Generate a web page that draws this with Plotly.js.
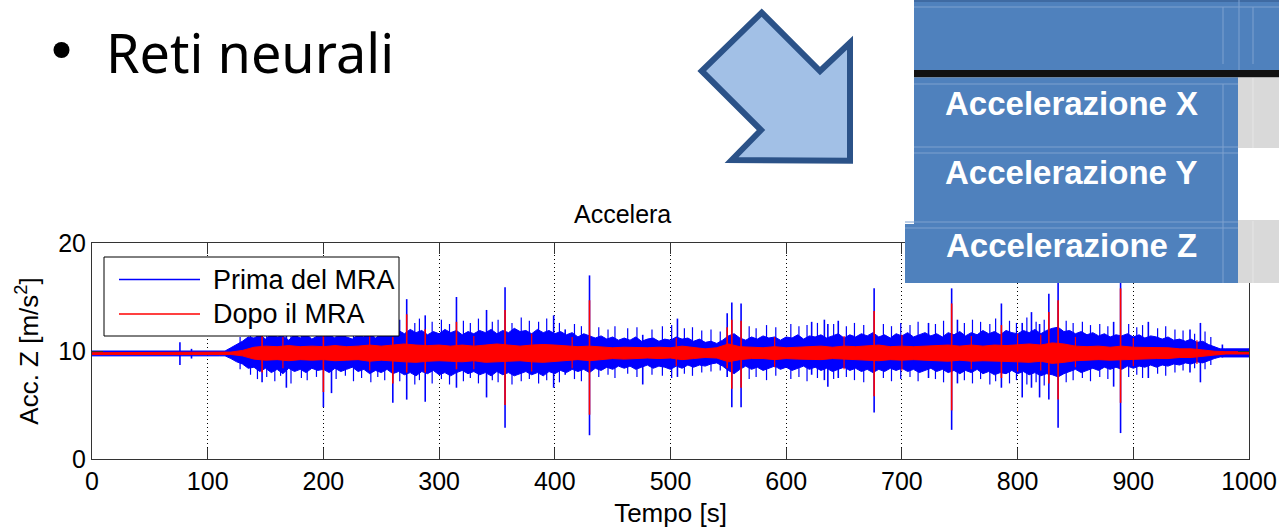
<!DOCTYPE html>
<html>
<head>
<meta charset="utf-8">
<script src="https://cdn.plot.ly/plotly-3.0.1.min.js"></script>
<style>html,body{margin:0;padding:0;background:#fff;}#chart{width:1279px;height:529px;}</style>
</head>
<body>
<div id="chart"></div>
<script>
// ---------- DATA ----------
const tBlue = [0,10,20,30,40,50,60,70,80,90,100,110,
115,
120,125,130,135,140,145,150,155,160,165,
170,175,180,185,190,195,200,205,210,215,
220,225,230,235,240,245,250,255,260,265,
270,275,280,285,290,295,300,305,310,315,
320,325,330,335,340,345,350,355,360,365,
370,375,380,385,390,395,400,405,410,415,
420,425,430,435,440,445,450,455,460,465,
470,475,480,485,490,495,500,505,510,515,
520,525,530,535,540,545,550,555,560,565,
570,575,580,585,590,595,600,605,610,615,
620,625,630,635,640,645,650,655,660,665,
670,675,680,685,690,695,700,705,710,715,
720,725,730,735,740,745,750,755,760,765,
770,775,780,785,790,795,800,805,810,815,
820,825,830,835,840,845,850,855,860,865,
870,875,880,885,890,895,900,905,910,915,
920,925,930,935,940,945,950,955,960,965,
970,975,980,990,1000];
const blueHi = [10.0,10.0,10.0,10.0,10.0,10.0,10.0,10.0,10.0,10.0,10.0,10.0,
10.0,
10.3,10.6,10.9,11.3,11.2,11.5,11.1,11.6,11.3,11.4,
11.0,11.5,11.2,11.6,11.1,11.4,11.3,11.5,11.2,11.6,
11.3,11.1,11.5,11.3,11.7,11.2,11.5,11.8,11.4,11.9,
11.6,12.0,11.7,11.9,11.5,11.8,11.6,12.0,11.7,11.9,
11.5,11.8,11.6,11.9,11.7,12.0,11.6,11.9,11.7,12.1,
11.8,11.9,11.6,12.0,11.7,11.9,11.6,11.8,11.5,11.7,
11.3,11.6,11.4,11.2,11.4,11.1,11.3,11.0,11.2,11.0,
11.3,10.9,11.1,11.2,10.9,11.1,11.0,11.3,11.1,11.2,
10.9,11.1,10.8,10.9,10.7,11.0,11.4,11.6,11.2,11.0,
11.3,11.1,11.4,11.2,11.3,11.0,11.3,11.2,11.5,11.1,
11.4,11.3,11.5,11.2,11.4,11.6,11.2,11.5,11.3,11.6,
11.4,11.7,11.3,11.5,11.2,11.6,11.4,11.7,11.3,11.5,
11.7,11.4,11.6,11.3,11.7,11.5,11.8,11.4,11.7,11.5,
11.9,11.6,11.8,11.5,11.9,11.7,11.6,11.9,11.7,12.0,
11.6,11.9,12.1,12.2,11.8,11.9,11.6,11.8,11.5,11.7,
11.4,11.6,11.3,11.5,11.4,11.6,11.3,11.5,11.2,11.4,
11.3,11.1,11.3,11.0,11.1,10.9,11.1,10.8,10.9,10.6,
10.4,10.2,10.2,10.2,10.2];
const blueLo = [9.55,9.55,9.55,9.55,9.55,9.55,9.55,9.55,9.55,9.55,9.55,9.55,
9.55,
9.3,9.0,8.8,8.4,8.5,8.1,8.4,8.0,8.3,7.9,
8.4,8.1,8.3,8.0,8.4,8.2,8.3,8.0,8.4,8.1,
8.3,8.5,8.1,8.3,7.9,8.2,8.0,8.3,7.9,8.1,
7.8,8.0,7.7,8.1,7.9,8.2,7.8,8.0,7.7,8.0,
8.2,7.9,8.1,7.8,8.0,7.7,8.1,7.8,8.0,7.7,
7.9,8.1,7.8,8.0,7.7,8.1,7.9,8.2,8.0,8.3,
8.1,8.3,8.0,8.4,8.2,8.5,8.3,8.6,8.4,8.6,
8.3,8.5,8.7,8.4,8.6,8.5,8.3,8.6,8.4,8.7,
8.5,8.7,8.6,8.8,8.9,8.6,8.2,7.9,8.3,8.6,
8.3,8.5,8.2,8.4,8.6,8.3,8.5,8.2,8.4,8.6,
8.3,8.5,8.2,8.4,8.1,8.3,8.5,8.2,8.4,8.1,
8.3,8.0,8.3,8.1,8.4,8.2,8.4,8.1,8.3,8.0,
8.2,8.4,8.1,8.3,8.0,8.2,7.9,8.2,8.0,8.3,
7.9,8.1,7.8,8.0,7.9,8.2,7.9,8.1,7.8,8.0,
7.7,7.9,7.8,7.6,7.9,8.1,8.3,8.0,8.2,8.4,
8.2,8.5,8.3,8.5,8.3,8.6,8.4,8.6,8.5,8.7,
8.5,8.7,8.6,8.8,8.7,8.9,8.8,9.0,8.9,9.1,
9.3,9.45,9.45,9.45,9.45];

const tRed = [0,10,20,30,40,50,60,70,80,90,100,110,
120,130,140,150,160,170,180,190,200,210,
220,230,240,250,260,270,280,290,300,310,
320,330,340,350,360,370,380,390,400,410,
420,430,440,450,460,470,480,490,500,510,
520,530,540,550,560,570,580,590,600,610,
620,630,640,650,660,670,680,690,700,710,
720,730,740,750,760,770,780,790,800,810,
820,830,840,850,860,870,880,890,900,910,
920,930,940,950,960,970,980,990,1000];
const redHi = [9.84,9.84,9.84,9.84,9.84,9.84,9.84,9.84,9.84,9.84,9.84,9.84,
9.9,10.05,10.35,10.45,10.4,10.5,10.4,10.45,10.4,10.5,
10.4,10.45,10.55,10.45,10.55,10.65,10.55,10.5,10.55,10.45,
10.55,10.45,10.55,10.65,10.55,10.45,10.55,10.6,10.55,10.45,
10.4,10.45,10.35,10.3,10.35,10.3,10.3,10.35,10.3,10.45,
10.3,10.2,10.3,10.65,10.4,10.35,10.3,10.4,10.3,10.35,
10.4,10.45,10.35,10.45,10.4,10.45,10.55,10.4,10.45,10.4,
10.45,10.45,10.55,10.45,10.55,10.45,10.55,10.5,10.55,10.65,
10.55,10.75,10.65,10.45,10.4,10.45,10.35,10.45,10.35,10.35,
10.3,10.3,10.2,10.2,10.1,9.98,9.94,9.94,9.94];
const redLo = [9.68,9.68,9.68,9.68,9.68,9.68,9.68,9.68,9.68,9.68,9.68,9.68,
9.68,9.55,9.25,9.15,9.2,9.1,9.2,9.15,9.2,9.1,
9.15,9.2,9.05,9.15,9.05,9.0,8.95,9.05,9.1,9.05,
9.0,9.1,8.95,9.0,9.05,9.1,9.0,8.95,9.05,9.1,
9.2,9.1,9.2,9.3,9.25,9.3,9.35,9.3,9.35,9.2,
9.3,9.4,9.35,9.0,9.2,9.3,9.3,9.2,9.3,9.25,
9.2,9.2,9.3,9.2,9.2,9.15,9.1,9.2,9.15,9.2,
9.15,9.1,9.05,9.15,9.05,9.1,9.05,9.05,9.0,8.95,
9.05,8.85,8.95,9.1,9.15,9.2,9.15,9.15,9.25,9.25,
9.3,9.3,9.4,9.4,9.5,9.62,9.72,9.72,9.72];

// large isolated peaks
const peakT  = [76,86,147,168,200,207,260,272,288,315,341,357,399,409,430,476,506,549,553,561,622,633,636,645,676,723,743,748,786,804,812,819,827,835,883,889,913,949,958,977];
const peakHi = [10.8,10.2,12.0,12.0,12.6,11.8,12.3,14.8,13.3,15.0,13.8,15.9,13.3,12.0,17.0,11.5,13.0,13.5,14.5,14.4,12.7,12.9,12.5,12.8,15.8,12.6,15.8,12.9,14.4,12.6,13.6,12.5,15.3,17.0,12.7,17.5,12.7,12.0,12.6,10.6];
const peakLo = [8.7,9.3,7.1,6.6,4.8,6.1,5.2,5.5,5.3,6.6,5.7,2.9,6.6,7.8,2.2,6.9,7.6,7.6,4.8,4.8,7.8,7.3,6.7,7.5,4.3,7.5,2.7,7.0,6.6,5.7,6.6,5.7,5.5,2.9,6.7,2.4,7.5,8.0,7.1,9.4];
const redPeakT  = [147,200,260,272,288,315,357,430,549,553,561,676,743,786,827,835,889];
const redPeakHi = [11.7,12.2,11.3,13.4,12.0,12.7,13.8,14.7,12.2,12.9,12.8,13.7,14.4,12.4,13.6,14.7,15.8];
const redPeakLo = [8.0,6.2,7.0,8.0,8.0,8.3,5.0,4.1,8.4,6.5,6.6,5.8,4.5,7.5,7.0,5.5,5.2];

// smaller peaks that make the band edge ragged
const minorT = [128,137,143,151,158,163,172,181,186,194,
211,219,226,233,241,247,253,266,279,283,
294,302,309,321,327,334,346,351,363,371,
378,386,393,404,417,423,438,446,452,463,
471,484,493,501,512,519,527,535,543,568,
574,583,591,604,611,618,627,641,652,659,
667,684,691,699,707,714,729,736,754,761,
768,776,781,793,799,808,816,823,842,848,
856,863,871,878,896,903,908,921,928,936,
943,953,962,967];
const minorHi = [11.3,12.0,12.2,12.4,12.1,12.5,12.2,12.6,12.0,12.3,
12.4,12.1,12.6,12.2,12.5,12.3,12.7,12.9,12.6,13.0,
12.7,12.9,12.5,12.8,12.6,13.0,12.7,12.9,12.6,13.1,
12.8,12.7,13.0,12.6,12.5,12.3,12.2,12.0,12.3,12.1,
12.2,12.0,12.3,12.4,12.1,12.2,11.9,12.0,11.8,12.3,
12.1,12.4,12.2,12.5,12.3,12.4,12.6,12.5,12.3,12.6,
12.4,12.5,12.3,12.6,12.4,12.7,12.5,12.8,12.6,12.9,
12.7,12.5,13.0,12.8,12.6,13.1,12.7,12.9,12.8,12.6,
12.7,12.4,12.5,12.3,12.5,12.2,12.4,12.1,12.3,12.0,
11.9,11.6,11.8,11.3];
const minorLo = [8.3,7.8,7.4,7.6,7.2,7.7,7.0,7.5,7.3,7.6,
7.4,7.7,7.2,7.5,7.1,7.6,7.3,7.2,6.9,7.3,
7.0,7.4,6.9,7.2,7.5,7.0,7.3,7.1,6.9,7.2,
7.4,7.0,7.3,7.1,7.4,7.2,7.6,7.8,7.5,7.9,
7.6,7.8,7.7,7.5,7.9,7.7,8.0,8.1,8.2,7.4,
7.6,7.3,7.7,7.4,7.6,7.2,7.5,7.4,7.6,7.3,
7.1,7.5,7.2,7.4,7.6,7.2,7.4,7.1,7.3,7.0,
7.4,6.9,7.2,7.0,7.3,6.9,7.1,6.8,7.1,7.3,
7.5,7.2,7.6,7.4,7.6,7.8,7.5,7.9,7.7,8.0,
8.2,8.4,8.3,8.7];
const redMinorT  = [165,240,330,380,415,505,590,650,700,760,800,820,850,900,955];
const redMinorHi = [11.3,11.5,11.4,11.6,11.3,11.2,11.3,11.4,11.5,11.4,11.6,11.5,11.3,11.2,11.0];
const redMinorLo = [8.4,8.2,8.3,8.1,8.4,8.6,8.5,8.3,8.2,8.3,8.1,8.2,8.5,8.6,8.8];

const xTicks = [0,100,200,300,400,500,600,700,800,900,1000];
const yTicks = [0,10,20];
const seriesNames = ['Prima del MRA','Dopo il MRA'];
const tableRows = ['Accelerazione X','Accelerazione Y','Accelerazione Z'];

// ---------- helpers ----------
const BLUE = '#0000ff', RED = '#ff0000';
function band(t, hi, lo, color, name) {
  return {x: t.concat(t.slice().reverse()), y: hi.concat(lo.slice().reverse()),
    type:'scatter', mode:'lines', fill:'toself', fillcolor:color,
    line:{color:color, width:1}, name:name, showlegend:false, hoverinfo:'skip'};
}
function spikes(t, hi, lo, color, w, name) {
  const x = [], y = [];
  t.forEach((v, i) => { x.push(v, v, null); y.push(lo[i], hi[i], null); });
  return {x:x, y:y, type:'scatter', mode:'lines', line:{color:color, width:w},
    name:name, showlegend:false, hoverinfo:'skip', connectgaps:false};
}
// plot area in pixels: x 92..1249, y 243..459
const PX = p => (p - 92) / 1157;
const PY = p => (459 - p) / 216;
function rect(x0, y0, x1, y1, fill) {
  return {type:'rect', xref:'paper', yref:'paper', layer:'above',
    x0:PX(x0), x1:PX(x1), y0:PY(y1), y1:PY(y0), fillcolor:fill, line:{width:0}};
}
function seg(x0, y0, x1, y1, color, w) {
  return {type:'line', xref:'paper', yref:'paper', layer:'above',
    x0:PX(x0), x1:PX(x1), y0:PY(y0), y1:PY(y1), line:{color:color, width:w}};
}
function text(str, x, y, size, opts) {
  return Object.assign({xref:'paper', yref:'paper', x:PX(x), y:PY(y), text:str,
    showarrow:false, xanchor:'left', yanchor:'middle',
    font:{family:'Liberation Sans, Arial, sans-serif', size:size, color:'#000'}}, opts || {});
}

const traces = [
  band(tBlue, blueHi, blueLo, BLUE, seriesNames[0]),
  spikes(minorT, minorHi, minorLo, BLUE, 1.2, seriesNames[0]),
  spikes(peakT, peakHi, peakLo, BLUE, 1.6, seriesNames[0]),
  band(tRed, redHi, redLo, RED, seriesNames[1]),
  spikes(redMinorT, redMinorHi, redMinorLo, RED, 1.2, seriesNames[1]),
  spikes(redPeakT, redPeakHi, redPeakLo, RED, 1.6, seriesNames[1])
];

// arrow outline (pixels)
const arrowPts = [[761.7,12.7],[820,71],[850,42.7],[850,160.7],[731.7,160],[761,130],[701.7,71]];
const arrowPath = 'M' + arrowPts.map(p => PX(p[0]) + ',' + PY(p[1])).join(' L') + ' Z';

const LIGHT = '#7fa1cf', TBLUE = '#4f81bd';
const shapes = [
  // legend box
  {type:'rect', xref:'paper', yref:'paper', layer:'above', x0:PX(104), x1:PX(399), y0:PY(336), y1:PY(257),
   fillcolor:'#fff', line:{color:'#000', width:1}},
  seg(119, 279.5, 200, 279.5, BLUE, 1.5),
  seg(119, 314, 200, 314, RED, 1.5),
  // bullet mark of the slide list
  {type:'circle', xref:'paper', yref:'paper', layer:'above', x0:PX(53.5), x1:PX(69.5), y0:PY(58), y1:PY(42),
   fillcolor:'#000', line:{width:0}},
  // arrow
  {type:'path', xref:'paper', yref:'paper', layer:'above', path:arrowPath,
   fillcolor:'#a2c0e6', line:{color:'#2b5288', width:6}},
  // table overlay
  rect(914, 0, 1279, 70, TBLUE),
  rect(914, 0, 1279, 2, '#3f6aa2'),
  seg(914, 7, 1279, 7, LIGHT, 1),
  seg(1223, 7, 1223, 64, LIGHT, 1),
  seg(1239, 0, 1239, 70, LIGHT, 1),
  seg(1253, 7, 1253, 64, LIGHT, 1),
  rect(914, 70, 1279, 77.5, '#111111'),
  rect(914, 77.5, 1238, 224, TBLUE),
  rect(1238, 77.5, 1279, 148, '#d9d9d9'),
  rect(905, 224, 1238, 283, TBLUE),
  rect(1238, 220, 1279, 283, '#d9d9d9'),
  seg(914, 84, 1238, 84, LIGHT, 1),
  seg(914, 147, 1238, 147, LIGHT, 1),
  seg(914, 153, 1238, 153, LIGHT, 1),
  seg(905, 222, 1238, 222, LIGHT, 1),
  seg(905, 228, 1238, 228, LIGHT, 1),
  seg(1223, 84, 1223, 283, LIGHT, 1),
  seg(1253, 78, 1253, 148, '#e6e6e6', 1),
  seg(1253, 221, 1253, 283, '#e6e6e6', 1)
];

const annotations = [
  text('Accelera', 572, 214, 25),
  text(seriesNames[0], 211, 280, 27),
  text(seriesNames[1], 211, 314, 27),
  text('Reti neurali', 104, 52, 54, {font:{family:'Noto Sans, sans-serif', size:54, color:'#000'}})
];
[103, 173, 245].forEach((y, i) => annotations.push(
  text('<b>' + tableRows[i] + '</b>', 1071.5, y, 33,
       {xanchor:'center', font:{family:'Liberation Sans, Arial, sans-serif', size:33, color:'#ffffff'}})));

const layout = {
  width:1279, height:529, autosize:false,
  margin:{l:92, r:30, t:243, b:70, pad:0},
  paper_bgcolor:'#fff', plot_bgcolor:'#fff',
  showlegend:false,
  font:{family:'Liberation Sans, Arial, sans-serif', color:'#000'},
  xaxis:{range:[0,1000], tickvals:xTicks, ticktext:xTicks.map(String),
    ticks:'inside', ticklen:11, tickwidth:1, tickcolor:'#333',
    showline:true, linecolor:'#333', linewidth:1, mirror:'ticks',
    showgrid:true, gridcolor:'#000', gridwidth:1, griddash:'1px,3px', zeroline:false,
    tickfont:{size:25, color:'#000'},
    title:{text:'Tempo [s]', font:{size:26, color:'#000'}, standoff:9}},
  yaxis:{range:[0,20], tickvals:yTicks, ticktext:yTicks.map(String),
    ticks:'inside', ticklen:11, tickwidth:1, tickcolor:'#333',
    showline:true, linecolor:'#333', linewidth:1, mirror:'ticks',
    showgrid:false, zeroline:false,
    tickfont:{size:25, color:'#000'},
    title:{text:'Acc. Z [m/s<sup>2</sup>]', font:{size:26, color:'#000'}, standoff:12}},
  shapes:shapes,
  annotations:annotations
};

Plotly.newPlot('chart', traces, layout, {staticPlot:true, displayModeBar:false});
</script>
</body>
</html>
